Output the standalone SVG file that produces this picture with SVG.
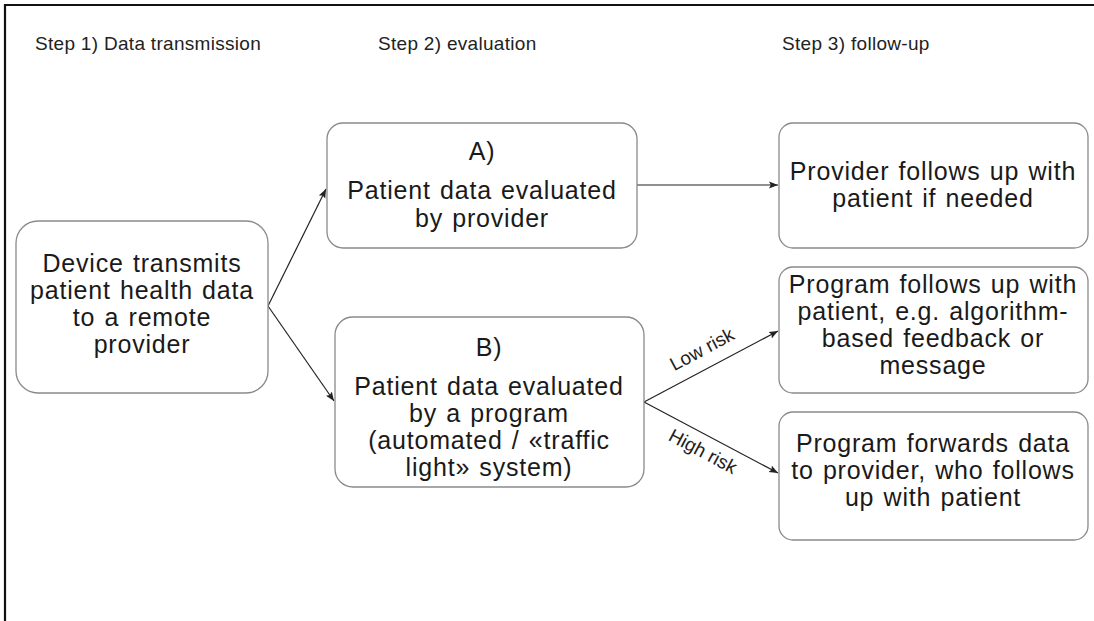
<svg xmlns="http://www.w3.org/2000/svg" width="1094" height="621" viewBox="0 0 1094 621">
<style>
.frame{stroke:#111;stroke-width:2.2;fill:none}
.box{fill:#fff;stroke:#8a8a8a;stroke-width:1.3}
.t{font-family:"Liberation Sans",Arial,sans-serif;font-size:25px;fill:#1a1a1a;text-anchor:middle;letter-spacing:0.8px;word-spacing:1.5px}
.h{font-family:"Liberation Sans",Arial,sans-serif;font-size:19px;fill:#222;letter-spacing:0.3px}
.lbl{font-family:"Liberation Sans",Arial,sans-serif;font-size:19px;fill:#222;text-anchor:middle}
.c{stroke:#222;stroke-width:1.2;fill:none;marker-end:url(#ah)}
</style>
<defs>
<marker id="ah" viewBox="0 0 10 10" refX="10" refY="5" markerWidth="9" markerHeight="9" markerUnits="userSpaceOnUse" orient="auto">
<path d="M0,1 L10,5 L0,9 L2,5 Z" fill="#222"/>
</marker>
</defs>
<rect width="1094" height="621" fill="#fff"/>
<path class="frame" d="M5,621 L5,5 L1094,5"/>
<g id="headers">
<text class="h" x="35" y="50">Step 1) Data transmission</text>
<text class="h" x="378" y="50">Step 2) evaluation</text>
<text class="h" x="782" y="50">Step 3) follow-up</text>
</g>
<g id="connectors">
<line class="c" x1="268" y1="306" x2="326" y2="189"/>
<line class="c" x1="268" y1="306" x2="334" y2="401"/>
<line class="c" x1="637" y1="185" x2="778" y2="185"/>
<line class="c" x1="644" y1="402" x2="778" y2="331"/>
<line class="c" x1="644" y1="402" x2="778" y2="473"/>
<text class="lbl" transform="translate(705,355) rotate(-28)">Low risk</text>
<text class="lbl" transform="translate(700,457) rotate(28)">High risk</text>
</g>
<g id="device">
<rect class="box" x="16" y="221" width="252" height="172" rx="22"/>
<text class="t" x="142" y="272">Device transmits</text>
<text class="t" x="142" y="299">patient health data</text>
<text class="t" x="142" y="326">to a remote</text>
<text class="t" x="142" y="353">provider</text>
</g>
<g id="evalA">
<rect class="box" x="327" y="123" width="310" height="125" rx="16"/>
<text class="t" x="482" y="160">A)</text>
<text class="t" x="482" y="199">Patient data evaluated</text>
<text class="t" x="482" y="227">by provider</text>
</g>
<g id="evalB">
<rect class="box" x="335" y="317" width="309" height="170" rx="18"/>
<text class="t" x="489" y="356">B)</text>
<text class="t" x="489" y="395">Patient data evaluated</text>
<text class="t" x="489" y="422">by a program</text>
<text class="t" x="489" y="449">(automated / «traffic</text>
<text class="t" x="489" y="476">light» system)</text>
</g>
<g id="followA">
<rect class="box" x="779" y="123" width="309" height="125" rx="14"/>
<text class="t" x="933" y="180">Provider follows up with</text>
<text class="t" x="933" y="207">patient if needed</text>
</g>
<g id="followB1">
<rect class="box" x="779" y="267" width="309" height="126" rx="14"/>
<text class="t" x="933" y="293">Program follows up with</text>
<text class="t" x="933" y="320">patient, e.g. algorithm-</text>
<text class="t" x="933" y="347">based feedback or</text>
<text class="t" x="933" y="374">message</text>
</g>
<g id="followB2">
<rect class="box" x="779" y="412" width="309" height="128" rx="14"/>
<text class="t" x="933" y="452">Program forwards data</text>
<text class="t" x="933" y="479">to provider, who follows</text>
<text class="t" x="933" y="506">up with patient</text>
</g>
</svg>
